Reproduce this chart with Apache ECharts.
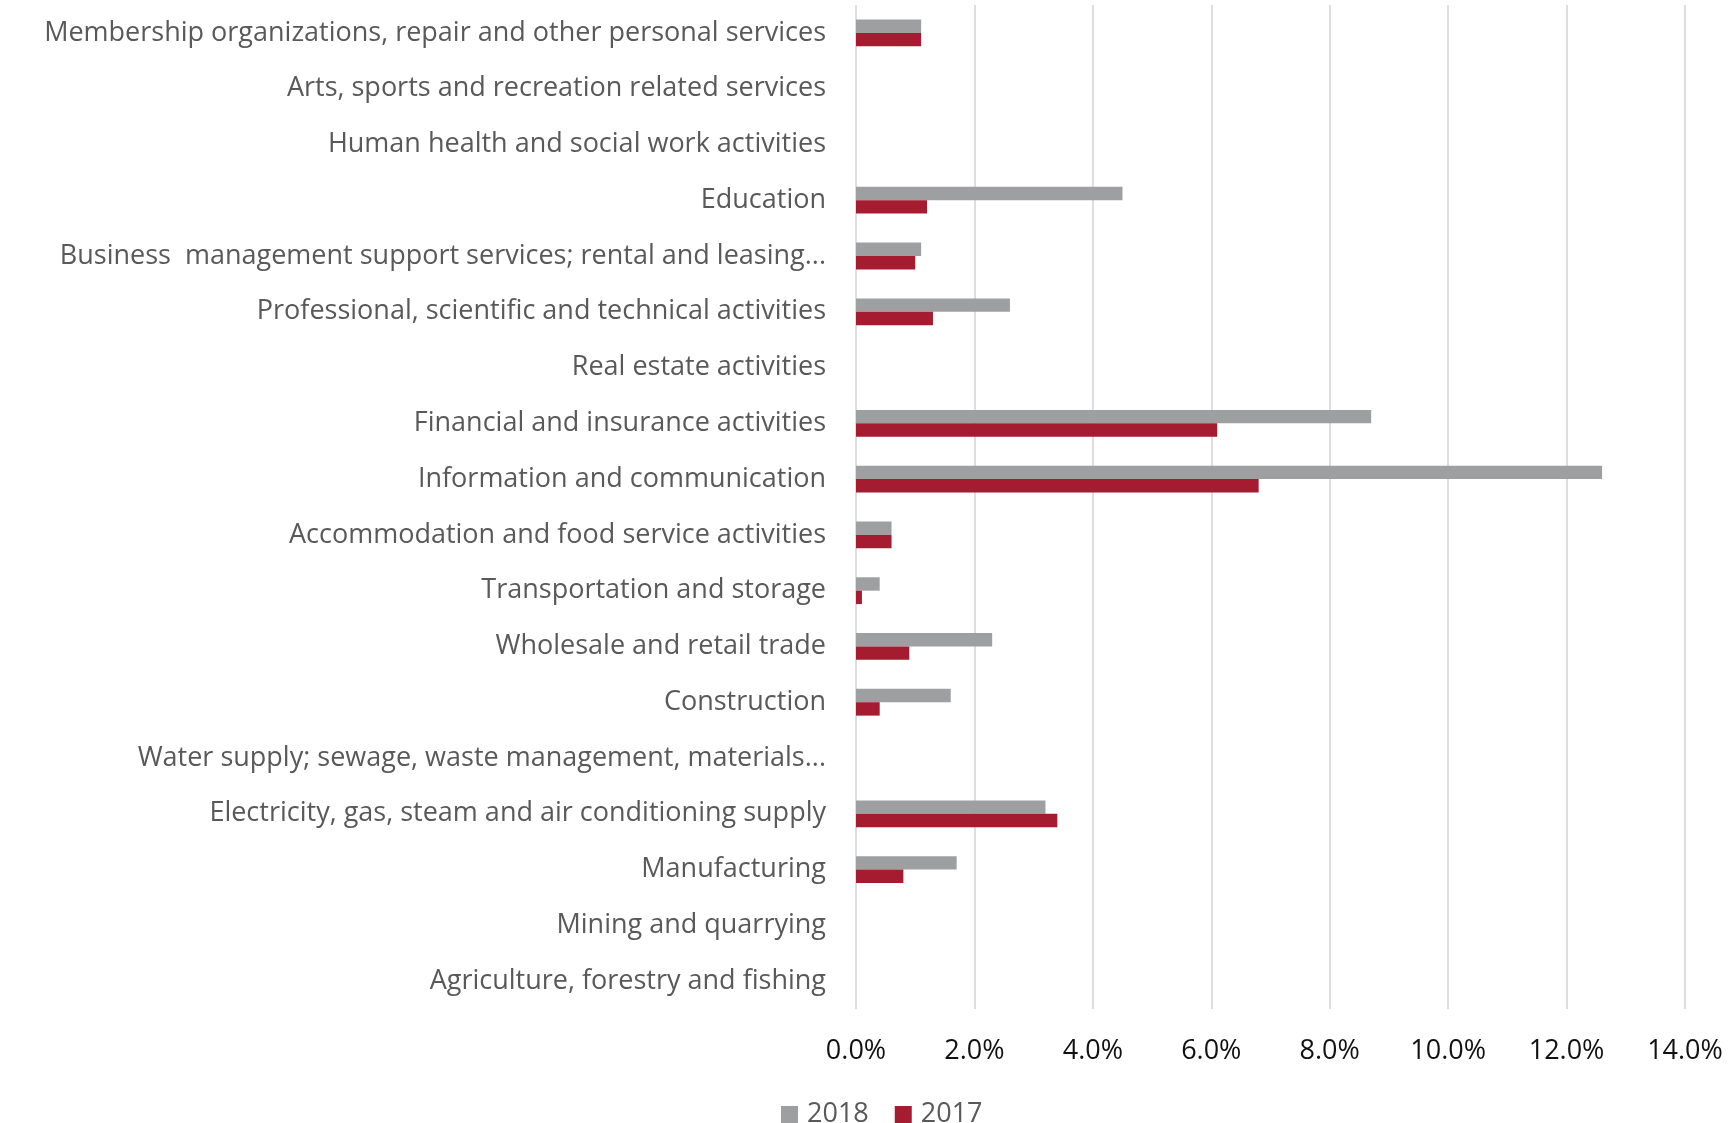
<!DOCTYPE html>
<html>
<head>
<meta charset="utf-8">
<title>Growth by industry, 2017 vs 2018</title>
<script src="https://cdn.jsdelivr.net/npm/echarts@6/dist/echarts.min.js"></script>
<style>
  html, body { margin: 0; padding: 0; background: #fff; }
  #chart { width: 1731px; height: 1123px; }
</style>
</head>
<body>
<div id="chart"></div>
<script>
// Industries, listed top to bottom
const industries = [
  'Membership organizations, repair and other personal services',
  'Arts, sports and recreation related services',
  'Human health and social work activities',
  'Education',
  'Business  management support services; rental and leasing...',
  'Professional, scientific and technical activities',
  'Real estate activities',
  'Financial and insurance activities',
  'Information and communication',
  'Accommodation and food service activities',
  'Transportation and storage',
  'Wholesale and retail trade',
  'Construction',
  'Water supply; sewage, waste management, materials...',
  'Electricity, gas, steam and air conditioning supply',
  'Manufacturing',
  'Mining and quarrying',
  'Agriculture, forestry and fishing'
];

// Shares in percent, same order as industries
const values2018 = [1.1, 0, 0, 4.5, 1.1, 2.6, 0, 8.7, 12.6, 0.6, 0.4, 2.3, 1.6, 0, 3.2, 1.7, 0, 0];
const values2017 = [1.1, 0, 0, 1.2, 1.0, 1.3, 0, 6.1, 6.8, 0.6, 0.1, 0.9, 0.4, 0, 3.4, 0.8, 0, 0];

// Value axis ticks
const axisMin = 0;
const axisMax = 14;
const axisStep = 2;

const seriesNames = ['2018', '2017'];

const chart = echarts.init(document.getElementById('chart'), null, { renderer: 'canvas' });

const FONT = '"Open Sans", "DejaVu Sans", sans-serif';

chart.setOption({
  animation: false,
  backgroundColor: '#ffffff',
  grid: { left: 856, right: 46, top: 5, bottom: 114, containLabel: false },
  legend: {
    data: seriesNames,
    left: 776,
    top: 1096,
    icon: 'rect',
    itemWidth: 17,
    itemHeight: 17,
    itemGap: 26,
    textStyle: { fontFamily: FONT, fontSize: 27, color: '#595959', padding: [0, 0, 0, 4] }
  },
  xAxis: {
    type: 'value',
    min: axisMin,
    max: axisMax,
    interval: axisStep,
    axisLine: { show: false },
    axisTick: { show: false },
    splitLine: { show: true, lineStyle: { color: '#d9d9d9', width: 1.7 } },
    axisLabel: {
      margin: 29,
      fontFamily: FONT,
      fontSize: 27,
      color: '#111111',
      formatter: v => v.toFixed(1) + '%'
    }
  },
  yAxis: {
    type: 'category',
    inverse: true,
    data: industries,
    axisLine: { show: false },
    axisTick: { show: false },
    splitLine: { show: false },
    axisLabel: {
      margin: 30,
      fontFamily: FONT,
      fontSize: 27,
      color: '#595959',
      interval: 0
    }
  },
  series: [
    {
      name: seriesNames[0],
      type: 'bar',
      data: values2018,
      barWidth: 13.4,
      barGap: '0%',
      itemStyle: { color: '#9e9fa1' }
    },
    {
      name: seriesNames[1],
      type: 'bar',
      data: values2017,
      barWidth: 13.4,
      barGap: '0%',
      itemStyle: { color: '#a51c30' }
    }
  ]
});
</script>
</body>
</html>
